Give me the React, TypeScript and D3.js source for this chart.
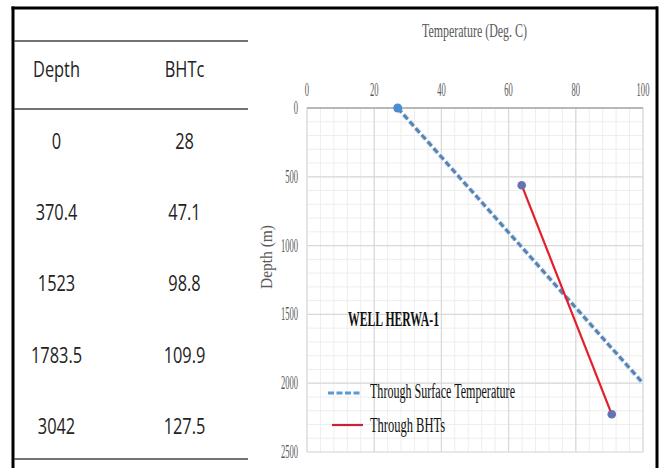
import React from "react";
import * as d3 from "d3";

const depthCol = ["0", "370.4", "1523", "1783.5", "3042"];
const bhtcCol = ["28", "47.1", "98.8", "109.9", "127.5"];
const tableHeaders = ["Depth", "BHTc"];

const xTicks = [0, 20, 40, 60, 80, 100];
const yTicks = [0, 500, 1000, 1500, 2000, 2500];

const surfaceTemps = [27, 100];
const surfaceDepths = [0, 2000];
const bhtTemps = [63.9, 90.7];
const bhtDepths = [561, 2226];

const legendLabels = ["Through Surface Temperature", "Through BHTs"];

const W = 659;
const H = 468;

export default function App() {
  const x = d3.scaleLinear().domain([0, 100]).range([307, 643]);
  const y = d3.scaleLinear().domain([0, 2500]).range([108, 452]);

  const minorX = d3.range(0, 100.001, 4);
  const minorY = d3.range(0, 2500.001, 100);

  const line = d3
    .line<[number, number]>()
    .x((d) => x(d[0]))
    .y((d) => y(d[1]));

  const surfacePts: [number, number][] = surfaceTemps.map((t, i) => [t, surfaceDepths[i]]);
  const bhtPts: [number, number][] = bhtTemps.map((t, i) => [t, bhtDepths[i]]);

  const rowY = d3.scaleLinear().domain([0, 4]).range([148.5, 434]);
  const serif = "'Liberation Serif', 'Times New Roman', serif";
  const sans = "'Open Sans', 'Noto Sans', sans-serif";

  return (
    <svg
      width={W}
      height={H}
      style={{ position: "absolute", left: 0, top: 0, background: "#fff" }}
    >
      <rect x={0} y={0} width={W} height={H} fill="#fff" />
      {/* frame */}
      <line x1={13} y1={6.5} x2={13} y2={H} stroke="#000" strokeWidth={3} />
      <line x1={11.5} y1={8} x2={658} y2={8} stroke="#000" strokeWidth={3} />
      <line x1={657} y1={6.5} x2={657} y2={H} stroke="#000" strokeWidth={3} />

      {/* table */}
      {[41, 109, 459].map((ly, i) => (
        <line key={i} x1={14} x2={248} y1={ly} y2={ly} stroke="#444" strokeWidth={1.5} />
      ))}
      {tableHeaders.map((h, i) => (
        <text
          key={h}
          transform={`translate(${i === 0 ? 56.5 : 184.5},77) scale(0.78,1)`}
          textAnchor="middle"
          fontFamily={sans}
          fontSize={21}
          fill="#222"
        >
          {h}
        </text>
      ))}
      {depthCol.map((v, i) => (
        <text
          key={"d" + i}
          transform={`translate(56.5,${rowY(i)}) scale(0.78,1)`}
          textAnchor="middle"
          fontFamily={sans}
          fontSize={21}
          fill="#222"
        >
          {v}
        </text>
      ))}
      {bhtcCol.map((v, i) => (
        <text
          key={"b" + i}
          transform={`translate(184.5,${rowY(i)}) scale(0.78,1)`}
          textAnchor="middle"
          fontFamily={sans}
          fontSize={21}
          fill="#222"
        >
          {v}
        </text>
      ))}

      {/* chart grid */}
      {minorX.map((t) => (
        <line key={"mx" + t} x1={x(t)} x2={x(t)} y1={y(0)} y2={y(2500)} stroke="#eeeeee" strokeWidth={1} />
      ))}
      {minorY.map((d) => (
        <line key={"my" + d} x1={x(0)} x2={x(100)} y1={y(d)} y2={y(d)} stroke="#eeeeee" strokeWidth={1} />
      ))}
      {xTicks.map((t) => (
        <line key={"gx" + t} x1={x(t)} x2={x(t)} y1={y(0)} y2={y(2500)} stroke="#d9d9d9" strokeWidth={1.2} />
      ))}
      {yTicks.map((d) => (
        <line key={"gy" + d} x1={x(0)} x2={x(100)} y1={y(d)} y2={y(d)} stroke="#d9d9d9" strokeWidth={1.2} />
      ))}
      <line x1={x(0)} x2={x(100)} y1={y(0)} y2={y(0)} stroke="#a8a8a8" strokeWidth={1.6} />

      {/* tick labels */}
      {xTicks.map((t) => (
        <text
          key={"tx" + t}
          transform={`translate(${x(t)},96) scale(0.45,1)`}
          textAnchor="middle"
          fontFamily={serif}
          fontSize={19}
          fill="#595959"
        >
          {t}
        </text>
      ))}
      {yTicks.map((d) => (
        <text
          key={"ty" + d}
          transform={`translate(298,${y(d) + 6}) scale(0.45,1)`}
          textAnchor="end"
          fontFamily={serif}
          fontSize={19}
          fill="#595959"
        >
          {d}
        </text>
      ))}

      {/* axis titles */}
      <text
        x={474.5}
        y={37}
        textAnchor="middle"
        fontFamily={serif}
        fontSize={19}
        fill="#595959"
        textLength={105}
        lengthAdjust="spacingAndGlyphs"
      >
        Temperature (Deg. C)
      </text>
      <text
        transform="translate(272,257) rotate(-90)"
        textAnchor="middle"
        fontFamily={serif}
        fontSize={16}
        fill="#595959"
        textLength={64}
        lengthAdjust="spacingAndGlyphs"
      >
        Depth (m)
      </text>

      {/* series */}
      <path
        d={line(surfacePts) || ""}
        fill="none"
        stroke="#c9e0f5"
        strokeWidth={5}
        strokeDasharray="6,3"
      />
      <path
        d={line(surfacePts) || ""}
        fill="none"
        stroke="#5a82b0"
        strokeWidth={3}
        strokeDasharray="6,3"
      />
      <circle cx={x(surfaceTemps[0])} cy={y(surfaceDepths[0])} r={4.5} fill="#4a8dd0" />

      <path d={line(bhtPts) || ""} fill="none" stroke="#e41e2b" strokeWidth={2.2} />
      {bhtPts.map((p, i) => (
        <circle key={"bm" + i} cx={x(p[0])} cy={y(p[1])} r={4.3} fill="#6673b3" />
      ))}

      {/* annotation */}
      <text
        x={348}
        y={326}
        fontFamily={serif}
        fontWeight="bold"
        fontSize={20}
        fill="#111"
        textLength={91}
        lengthAdjust="spacingAndGlyphs"
      >
        WELL HERWA-1
      </text>

      {/* legend */}
      <line x1={328} x2={361} y1={393} y2={393} stroke="#5b9bd5" strokeWidth={3} strokeDasharray="6,2.5" />
      <text
        x={370}
        y={398}
        fontFamily={serif}
        fontSize={20}
        fill="#111"
        textLength={145}
        lengthAdjust="spacingAndGlyphs"
      >
        {legendLabels[0]}
      </text>
      <line x1={332} x2={363} y1={425} y2={425} stroke="#c8213a" strokeWidth={2.2} />
      <text
        x={370}
        y={432}
        fontFamily={serif}
        fontSize={20}
        fill="#111"
        textLength={75}
        lengthAdjust="spacingAndGlyphs"
      >
        {legendLabels[1]}
      </text>
    </svg>
  );
}
